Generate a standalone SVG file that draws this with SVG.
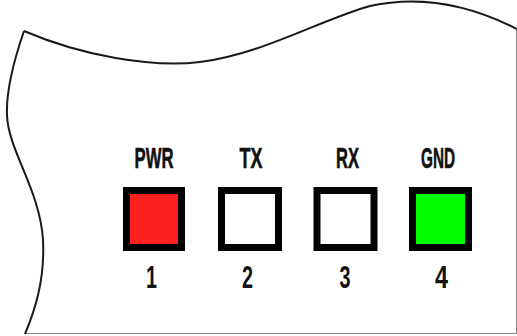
<svg xmlns="http://www.w3.org/2000/svg" width="517" height="336" viewBox="0 0 517 336">
<style>
.edge{fill:none;stroke:#1a1a1a;stroke-width:2}
.frame{fill:none;stroke:#888;stroke-width:1}
.pin{stroke:#000;stroke-width:7}
.lbl{font-family:"Liberation Sans",Arial,sans-serif;font-weight:bold;font-size:29px;fill:#111;stroke:#111;stroke-width:0.6;text-anchor:middle}
.num{font-family:"Liberation Sans",Arial,sans-serif;font-weight:bold;font-size:32px;fill:#111;text-anchor:middle}
</style>
<rect width="517" height="336" fill="#fff"/>
<g id="board">
<path class="frame" d="M516.5,28 V334 M25,333.5 H517"/>
<path class="edge" d="M24,31 C80,55 150,68 200,62 C260,55 320,20 370,6 C420,-5 470,5 517,29"/>
<path class="edge" d="M24,31 C14,60 6,90 7,115 C8,150 40,190 43,240 C45,280 35,310 25,334"/>
</g>
<g id="pin1">
<text class="lbl" x="154" y="168" textLength="39" lengthAdjust="spacingAndGlyphs">PWR</text>
<rect class="pin" x="126.5" y="190.5" width="55" height="57" fill="#ff2020"/>
<text class="num" x="151.5" y="288" textLength="11" lengthAdjust="spacingAndGlyphs">1</text>
</g>
<g id="pin2">
<text class="lbl" x="251" y="168" textLength="23" lengthAdjust="spacingAndGlyphs">TX</text>
<rect class="pin" x="221.5" y="190.5" width="57" height="57" fill="#fff"/>
<text class="num" x="247.5" y="288" textLength="11" lengthAdjust="spacingAndGlyphs">2</text>
</g>
<g id="pin3">
<text class="lbl" x="347.5" y="168" textLength="23" lengthAdjust="spacingAndGlyphs">RX</text>
<rect class="pin" x="317" y="190.5" width="57" height="57" fill="#fff"/>
<text class="num" x="345" y="288" textLength="11" lengthAdjust="spacingAndGlyphs">3</text>
</g>
<g id="pin4">
<text class="lbl" x="438" y="168" textLength="34" lengthAdjust="spacingAndGlyphs">GND</text>
<rect class="pin" x="412.5" y="190.5" width="56" height="57" fill="#00ff00"/>
<text class="num" x="441.5" y="288" textLength="13" lengthAdjust="spacingAndGlyphs">4</text>
</g>
</svg>
